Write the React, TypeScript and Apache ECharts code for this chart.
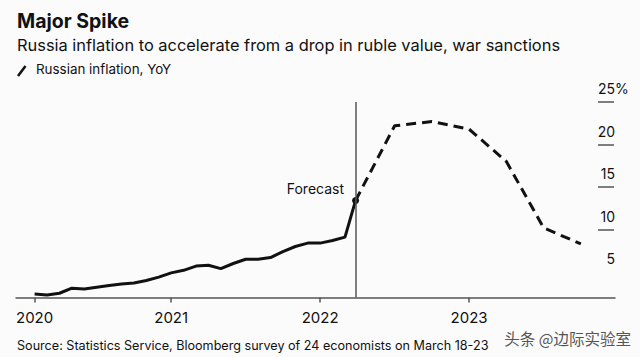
import React, { useEffect, useRef } from "react";
import * as echarts from "echarts";

// x = months since Jan 1, 2020 (month-end values)
const actualMonths = [1,2,3,4,5,6,7,8,9,10,11,12,13,14,15,16,17,18,19,20,21,22,23,24,25,26];
const actualValues = [2.4,2.3,2.5,3.1,3.0,3.2,3.4,3.6,3.7,4.0,4.4,4.9,5.2,5.7,5.8,5.4,6.0,6.5,6.5,6.7,7.4,8.0,8.4,8.4,8.7,9.1];
const forecastStart = [26.85, 13.4];
const forecastMonths = [30, 33, 36, 39, 42, 45];
const forecastValues = [22.2, 22.7, 21.8, 18.0, 10.2, 8.3];
const xTickValues = [1, 12, 24, 36];
const xTickLabels = ["2020", "2021", "2022", "2023"];
const yLabelValues = [5, 10, 15, 20, 25];
const yTickValues = [10, 15, 20, 25];

const FONT = "Inter, 'Liberation Sans', sans-serif";
const X_MIN = -0.5;
const X_MAX = 47.75;
const Y_TICK_FROM = 46.38;
const Y_TICK_TO = 47.67;

export default function App() {
  const ref = useRef<HTMLDivElement>(null);
  useEffect(() => {
    if (!ref.current) return;
    const chart = echarts.init(ref.current, null, { renderer: "svg" });
    const solid = actualMonths.map((m, i) => [m, actualValues[i]]);
    solid.push(forecastStart);
    const dashed = [forecastStart, ...forecastMonths.map((m, i) => [m, forecastValues[i]])];
    const tickSegments = yTickValues.map((v) => [
      { coord: [Y_TICK_FROM, v] },
      { coord: [Y_TICK_TO, v] },
    ]);
    chart.setOption({
      animation: false,
      backgroundColor: "#fbfbfc",
      textStyle: { fontFamily: FONT },
      grid: { left: 16, right: 25, top: 102, bottom: 59.5, containLabel: false, outerBoundsMode: "none" },
      xAxis: {
        type: "value",
        min: X_MIN,
        max: X_MAX,
        splitLine: { show: false },
        axisLine: { show: true, lineStyle: { color: "#555", width: 1.5 } },
        axisTick: { show: true, customValues: xTickValues, length: 5, lineStyle: { color: "#555", width: 1.5 } },
        axisLabel: {
          customValues: xTickValues,
          margin: 12,
          fontSize: 15,
          color: "#111",
          fontFamily: FONT,
          formatter: (v: number) => xTickLabels[xTickValues.indexOf(Math.round(v))] ?? "",
        },
      },
      yAxis: {
        type: "value",
        position: "right",
        min: 2,
        max: 25,
        splitLine: { show: false },
        axisLine: { show: false },
        axisTick: { show: false },
        axisLabel: {
          inside: true,
          customValues: yLabelValues,
          margin: 0,
          fontSize: 14,
          color: "#111",
          fontFamily: FONT,
          padding: [0, 0, 27, 0],
          formatter: (v: number) => (v === 25 ? "{n|25}{p|%}" : "{n|" + v + "}"),
          rich: {
            n: { fontSize: 14, color: "#111", fontFamily: FONT, align: "left" },
            p: { fontSize: 14, color: "#111", fontFamily: FONT, align: "left", width: 0 },
          },
        },
      },
      series: [
        {
          type: "line",
          data: solid,
          symbol: "none",
          lineStyle: { color: "#111", width: 3 },
          markLine: {
            silent: true,
            symbol: "none",
            label: { show: false },
            lineStyle: { color: "#555", width: 1.5, type: "solid" },
            data: [{ xAxis: forecastStart[0] }, ...tickSegments],
          },
        },
        {
          type: "line",
          data: dashed,
          symbol: "none",
          lineStyle: { color: "#111", width: 3, type: [10, 6] },
        },
        {
          type: "scatter",
          data: [forecastStart],
          symbolSize: 7,
          itemStyle: { color: "#111", opacity: 1 },
          label: {
            show: true,
            position: "left",
            offset: [-3, -12],
            formatter: "Forecast",
            fontSize: 14,
            color: "#111",
            fontFamily: FONT,
          },
        },
      ],
      graphic: [
        { type: "text", left: 17, top: 11, style: { text: "Major Spike", font: "bold 19.5px " + FONT, fill: "#111" } },
        { type: "text", left: 17, top: 37, style: { text: "Russia inflation to accelerate from a drop in ruble value, war sanctions", font: "16.4px " + FONT, fill: "#111" } },
        { type: "line", shape: { x1: 18, y1: 76, x2: 25.5, y2: 66 }, style: { stroke: "#111", lineWidth: 2.5 } },
        { type: "text", left: 36, top: 62, style: { text: "Russian inflation, YoY", font: "13.4px " + FONT, fill: "#111" } },
        { type: "text", left: 17, top: 339, style: { text: "Source: Statistics Service, Bloomberg survey of 24 economists on March 18-23", font: "12.6px " + FONT, fill: "#111" } },
        { type: "text", right: 9, top: 330, style: { text: "头条 @边际实验室", font: "15.5px 'Noto Sans CJK SC'", fill: "#555" } },
      ],
    });
    return () => chart.dispose();
  }, []);
  return <div ref={ref} style={{ position: "fixed", left: 0, top: 0, width: 640, height: 357 }} />;
}
